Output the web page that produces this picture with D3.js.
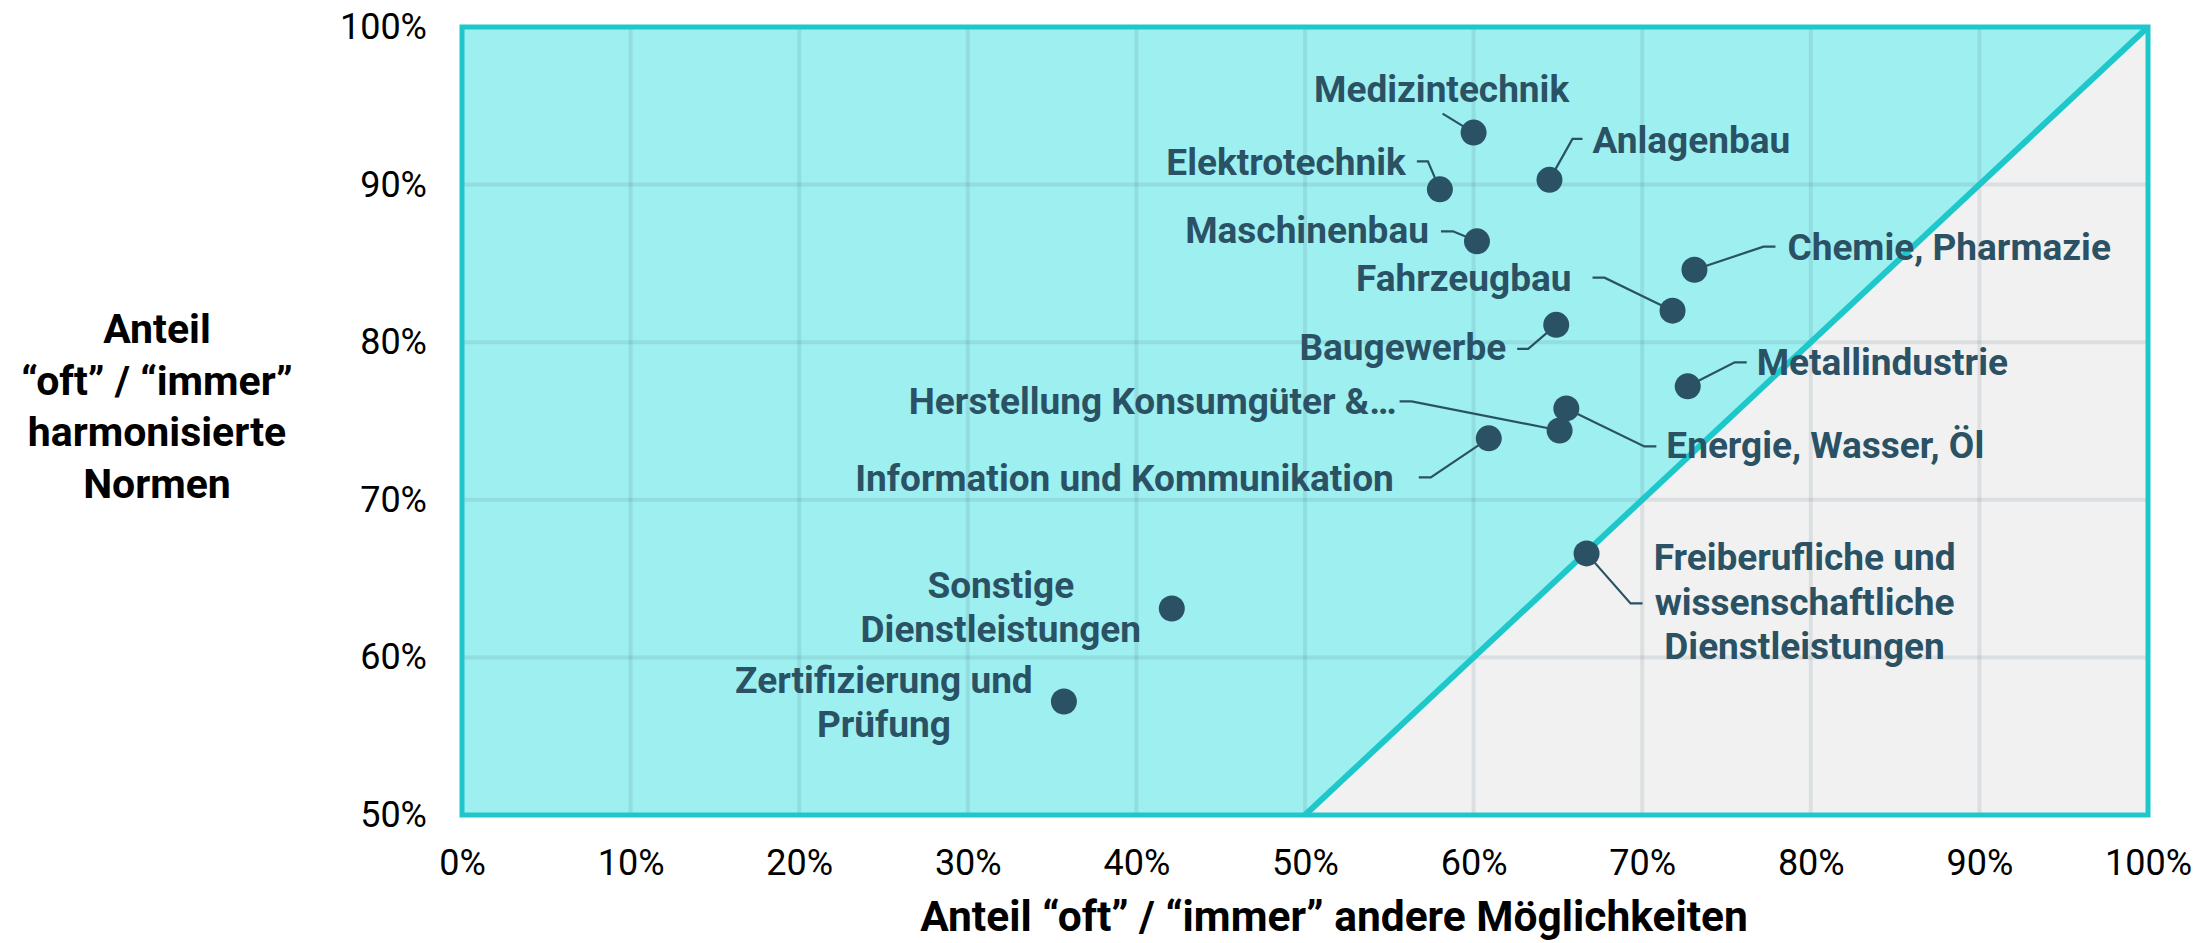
<!DOCTYPE html>
<html>
<head>
<meta charset="utf-8">
<script src="https://cdn.jsdelivr.net/npm/d3@7"></script>
<style>
  html, body { margin: 0; padding: 0; background: #ffffff; }
  svg { display: block; }
</style>
</head>
<body>
<svg id="chart" width="2210" height="943"></svg>
<script>
// ---------- data ----------
const categories = [
  "Medizintechnik", "Elektrotechnik", "Anlagenbau", "Maschinenbau",
  "Fahrzeugbau", "Chemie, Pharmazie", "Baugewerbe", "Metallindustrie",
  "Herstellung Konsumgüter &…", "Energie, Wasser, Öl",
  "Information und Kommunikation",
  "Freiberufliche und|wissenschaftliche|Dienstleistungen",
  "Sonstige|Dienstleistungen", "Zertifizierung und|Prüfung"
];
// share "oft"/"immer" other possibilities (x)
const otherShare = [0.600, 0.580, 0.645, 0.602, 0.718, 0.731, 0.649, 0.727,
                    0.651, 0.655, 0.609, 0.667, 0.421, 0.357];
// share "oft"/"immer" harmonised standards (y)
const harmonizedShare = [0.933, 0.897, 0.903, 0.864, 0.820, 0.846, 0.811, 0.772,
                         0.744, 0.758, 0.739, 0.666, 0.631, 0.572];
const xTicks = [0, 0.1, 0.2, 0.3, 0.4, 0.5, 0.6, 0.7, 0.8, 0.9, 1.0];
const yTicks = [0.5, 0.6, 0.7, 0.8, 0.9, 1.0];
const xTitle = "Anteil “oft” / “immer” andere Möglichkeiten";
const yTitle = ["Anteil", "“oft” / “immer”", "harmonisierte", "Normen"];

// ---------- annotation layout (pixel offsets from each dot) ----------
const labelLayout = [
  { anchor: "middle", dx: -32,  dy: -31, leader: [[-31,-19],[0,0]] },
  { anchor: "end",    dx: -34,  dy: -14, leader: [[-23,-28],[-12,-28],[0,0]] },
  { anchor: "start",  dx: 43,   dy: -27, leader: [[0,0],[23,-41],[33,-41]] },
  { anchor: "end",    dx: -48,  dy: 2,   leader: [[-36,-10],[-24,-10],[0,0]] },
  { anchor: "end",    dx: -101, dy: -20, leader: [[-80,-33],[-68,-33],[0,0]] },
  { anchor: "start",  dx: 93,   dy: -10, leader: [[0,0],[69,-23],[81,-23]] },
  { anchor: "end",    dx: -50,  dy: 35,  leader: [[-39,24],[-28,24],[0,0]] },
  { anchor: "start",  dx: 69,   dy: -11, leader: [[0,0],[47,-24],[59,-24]] },
  { anchor: "end",    dx: -163, dy: -16, leader: [[-160,-29],[-148,-29],[0,0]] },
  { anchor: "start",  dx: 100,  dy: 50,  leader: [[0,0],[78,38],[90,38]] },
  { anchor: "end",    dx: -95,  dy: 53,  leader: [[-70,39],[-58,39],[0,0]] },
  { anchor: "middle", dx: 218,  dy: 17,  leader: [[0,0],[44,50],[56,50]] },
  { anchor: "middle", dx: -171, dy: -11, leader: null },
  { anchor: "middle", dx: -180, dy: -9,  leader: null }
];

// ---------- styles ----------
const C = {
  cyan: "#9eeff0",
  gray: "#f1f1f1",
  teal: "#1ec8ca",
  grid: "rgba(40,70,90,0.10)",
  dark: "#2a5264",
  text: "#000000"
};
const FONT = "Roboto, 'Noto Sans', 'DejaVu Sans', sans-serif";

// ---------- scales ----------
const x = d3.scaleLinear().domain([0, 1]).range([462, 2148]);
const y = d3.scaleLinear().domain([0.5, 1]).range([815, 27]);

const svg = d3.select("#chart");

// background of plot (gray region)
svg.append("rect")
  .attr("x", x(0)).attr("y", y(1))
  .attr("width", x(1) - x(0)).attr("height", y(0.5) - y(1))
  .attr("fill", C.gray);

// cyan region above the diagonal
svg.append("path")
  .attr("d", d3.line()([[x(0), y(0.5)], [x(0.5), y(0.5)], [x(1), y(1)], [x(0), y(1)]]) + "Z")
  .attr("fill", C.cyan);

// gridlines
const grid = svg.append("g");
grid.selectAll("line.v").data(xTicks.filter(t => t > 0 && t < 1)).join("line")
  .attr("x1", d => x(d)).attr("x2", d => x(d))
  .attr("y1", y(1)).attr("y2", y(0.5))
  .attr("stroke", C.grid).attr("stroke-width", 4);
grid.selectAll("line.h").data(yTicks.filter(t => t > 0.5 && t < 1)).join("line")
  .attr("y1", d => y(d)).attr("y2", d => y(d))
  .attr("x1", x(0)).attr("x2", x(1))
  .attr("stroke", C.grid).attr("stroke-width", 4);

// border
svg.append("rect")
  .attr("x", x(0)).attr("y", y(1))
  .attr("width", x(1) - x(0)).attr("height", y(0.5) - y(1))
  .attr("fill", "none").attr("stroke", C.teal).attr("stroke-width", 5);

// diagonal
svg.append("line")
  .attr("x1", x(0.5)).attr("y1", y(0.5))
  .attr("x2", x(1)).attr("y2", y(1))
  .attr("stroke", C.teal).attr("stroke-width", 6);

// axes
const fmt = d3.format(".0%");
const xAxis = svg.append("g")
  .attr("transform", `translate(0,${y(0.5)})`)
  .call(d3.axisBottom(x).tickValues(xTicks).tickFormat(fmt).tickSize(0).tickPadding(34));
const yAxis = svg.append("g")
  .attr("transform", `translate(${x(0)},0)`)
  .call(d3.axisLeft(y).tickValues(yTicks).tickFormat(fmt).tickSize(0).tickPadding(35));
[xAxis, yAxis].forEach(a => {
  a.select(".domain").remove();
  a.selectAll("text")
    .attr("font-family", FONT).attr("font-size", 36)
    .attr("font-weight", 400).attr("fill", C.text);
});

// axis titles
svg.append("text")
  .attr("x", 1334).attr("y", 931)
  .attr("text-anchor", "middle")
  .attr("font-family", FONT).attr("font-size", 42.5).attr("font-weight", 700)
  .attr("fill", C.text)
  .text(xTitle);

const yt = svg.append("text")
  .attr("text-anchor", "middle")
  .attr("font-family", FONT).attr("font-size", 41).attr("font-weight", 700)
  .attr("fill", C.text);
yTitle.forEach((line, i) => {
  yt.append("tspan").attr("x", 157).attr("y", 343 + i * 51.7).text(line);
});

// points data
const pts = categories.map((c, i) => ({
  name: c, px: x(otherShare[i]), py: y(harmonizedShare[i]), lay: labelLayout[i]
}));

// leader lines
svg.append("g").selectAll("path")
  .data(pts.filter(p => p.lay.leader))
  .join("path")
  .attr("d", p => d3.line()(p.lay.leader.map(([a, b]) => [p.px + a, p.py + b])))
  .attr("fill", "none").attr("stroke", C.dark).attr("stroke-width", 2.2);

// dots
svg.append("g").selectAll("circle")
  .data(pts).join("circle")
  .attr("cx", p => p.px).attr("cy", p => p.py)
  .attr("r", 13).attr("fill", C.dark);

// labels
const lbl = svg.append("g").selectAll("text")
  .data(pts).join("text")
  .attr("text-anchor", p => p.lay.anchor)
  .attr("font-family", FONT).attr("font-size", 37).attr("font-weight", 700)
  .attr("fill", C.dark);
lbl.each(function (p) {
  const lines = p.name.split("|");
  const t = d3.select(this);
  lines.forEach((ln, i) => {
    t.append("tspan")
      .attr("x", p.px + p.lay.dx)
      .attr("y", p.py + p.lay.dy + i * 44.5)
      .text(ln);
  });
});
</script>
</body>
</html>
